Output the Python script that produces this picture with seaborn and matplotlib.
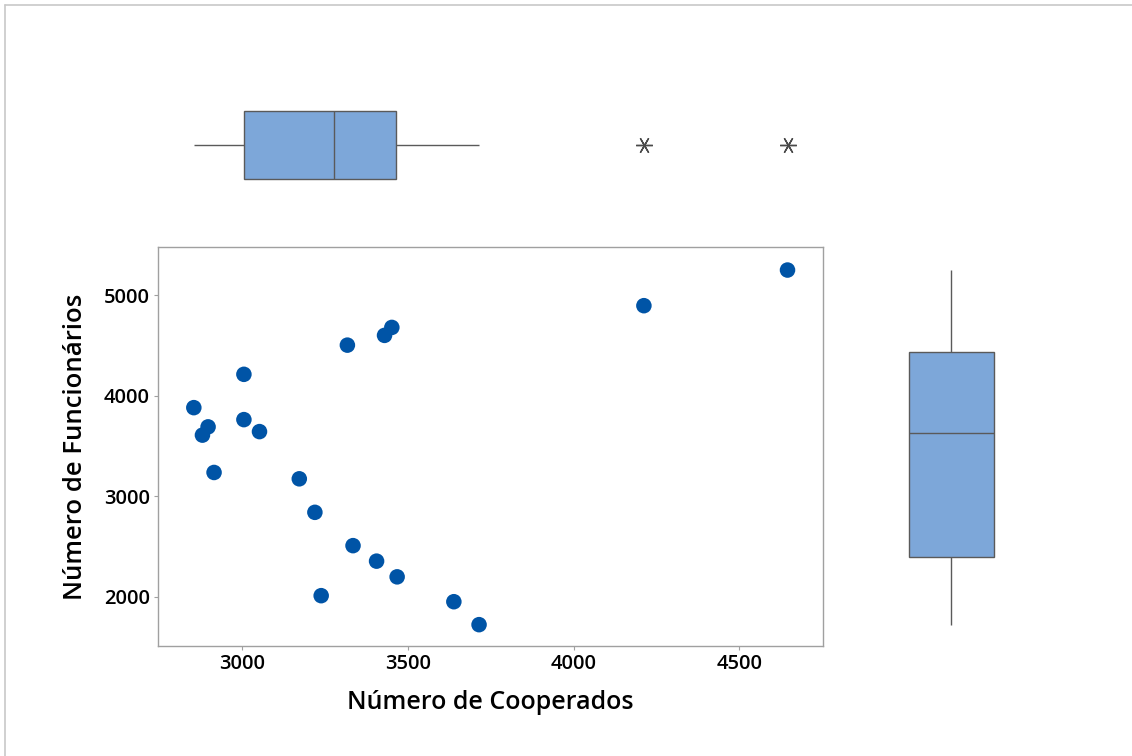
import numpy as np
import pandas as pd
import matplotlib
matplotlib.use("Agg")
import matplotlib.pyplot as plt
import matplotlib.cbook as cbook
import seaborn as sns
from matplotlib.lines import Line2D

# Data
cooperados = [2855, 2881, 2898, 2916, 3006, 3006, 3053, 3173, 3220, 3239,
              3318, 3335, 3406, 3430, 3452, 3468, 3639, 3715, 4212, 4645]
funcionarios = [3881, 3608, 3690, 3237, 4212, 3762, 3643, 3174, 2841, 2013,
                4502, 2510, 2356, 4599, 4678, 2200, 1953, 1725, 4894, 5248]
x_ticks = [3000, 3500, 4000, 4500]
y_ticks = [2000, 3000, 4000, 5000]
x_label = "Número de Cooperados"
y_label = "Número de Funcionários"

df = pd.DataFrame({"coop": cooperados, "func": funcionarios})

# Minitab-style quartiles ((n+1)p rule = numpy 'weibull' method)
_orig_stats = cbook.boxplot_stats


def minitab_boxplot_stats(X, whis=1.5, bootstrap=None, labels=None, autorange=False):
    stats = _orig_stats(X, whis=whis, bootstrap=bootstrap, labels=labels,
                        autorange=autorange)
    for st, x in zip(stats, X):
        x = np.asarray(x, dtype=float)
        q1, med, q3 = np.percentile(x, [25, 50, 75], method="weibull")
        iqr = q3 - q1
        lo, hi = q1 - whis * iqr, q3 + whis * iqr
        wlo = x[x >= lo].min()
        whi = x[x <= hi].max()
        st.update(q1=q1, med=med, q3=q3, iqr=iqr, whislo=wlo, whishi=whi,
                  fliers=x[(x < wlo) | (x > whi)])
    return stats


cbook.boxplot_stats = minitab_boxplot_stats

sns.set_theme(style="white")
plt.rcParams['font.family'] = ['Open Sans', 'DejaVu Sans']
plt.rcParams['font.weight'] = 'semibold'
plt.rcParams['text.color'] = 'black'
plt.rcParams['axes.labelcolor'] = 'black'
plt.rcParams['xtick.color'] = 'black'
plt.rcParams['ytick.color'] = 'black'

W, H = 1132, 756
fig = plt.figure(figsize=(W / 100, H / 100), dpi=100)
fig.patch.set_facecolor("white")


def px_axes(left, top, right, bottom):
    return fig.add_axes([left / W, 1 - bottom / H, (right - left) / W, (bottom - top) / H])


dot_color = "#0054A6"
box_color = "#7DA7D9"
edge_color = "#5A5A5A"
frame_color = "#A0A0A0"

# Main scatter
ax = px_axes(158, 247, 823, 646)
sns.scatterplot(data=df, x="coop", y="func", ax=ax, s=125, color=dot_color,
                edgecolor="none", linewidth=0, zorder=3)
ax.set_xlim(2747, 4752)
ax.set_ylim(1513, 5477)
ax.set_xticks(x_ticks)
ax.set_yticks(y_ticks)
ax.tick_params(axis="both", which="major", labelsize=14.5, length=3, width=0.8,
               color=frame_color, labelcolor="black", direction="out", pad=3,
               bottom=True, left=True)
for lab in ax.get_xticklabels() + ax.get_yticklabels():
    lab.set_fontweight("semibold")
for sp in ax.spines.values():
    sp.set_color(frame_color)
    sp.set_linewidth(1.0)
ax.set_xlabel(x_label, fontsize=18, fontweight="semibold", labelpad=11)
ax.set_ylabel(y_label, fontsize=18.5, fontweight="semibold", labelpad=11)

flier = dict(marker=(6, 2, 90), markersize=12, markeredgecolor="#4A4A4A",
             markeredgewidth=1.0, markerfacecolor="none")
box_kw = dict(color=box_color, linecolor=edge_color, linewidth=1.0,
              flierprops=flier, saturation=1, showcaps=False)

# Top boxplot (x marginal)
axt = px_axes(158, 95, 823, 195)
sns.boxplot(x=df["coop"], ax=axt, orient="h", width=0.67, **box_kw)
axt.set_xlim(ax.get_xlim())
axt.set_ylim(0.5, -0.5)
axt.axis("off")

# Right boxplot (y marginal)
axr = px_axes(901, 247, 1001, 646)
sns.boxplot(y=df["func"], ax=axr, orient="v", width=0.85, **box_kw)
axr.set_ylim(ax.get_ylim())
axr.set_xlim(-0.5, 0.5)
axr.axis("off")

cbook.boxplot_stats = _orig_stats

# Figure border (top and left only visible)
fig.add_artist(Line2D([5 / W, 1], [1 - 5 / H, 1 - 5 / H], color="#C8C8C8", lw=1.2,
                      transform=fig.transFigure))
fig.add_artist(Line2D([5 / W, 5 / W], [0, 1 - 5 / H], color="#C8C8C8", lw=1.2,
                      transform=fig.transFigure))

fig.savefig("out.png", dpi=100, facecolor="white")
